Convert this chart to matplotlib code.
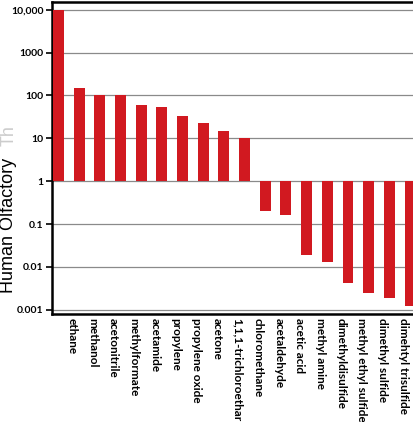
import matplotlib
matplotlib.use("Agg")
import matplotlib.pyplot as plt
from matplotlib.transforms import ScaledTranslation

# Datos
compuestos = ["", "ethane", "methanol", "acetonitrile", "methylformate", "acetamide",
              "propylene", "propylene oxide", "acetone", "1,1,1-trichloroethar",
              "chloromethane", "acetaldehyde", "acetic acid", "methyl amine",
              "dimethyldisulfide", "methyl ethyl sulfide", "dimethyl sulfide",
              "dimehtyl trisulfide"]
umbral = [10000, 145, 100, 104, 60, 53, 34, 23, 15, 10,
          0.2, 0.16, 0.019, 0.013, 0.0042, 0.0025, 0.0019, 0.0012]
y_ticks = [0.001, 0.01, 0.1, 1, 10, 100, 1000, 10000]
y_labels = ["0.001", "0.01", "0.1", "1", "10", "100", "1000", "10,000"]

fig = plt.figure(figsize=(4.14, 4.22), dpi=100)
ax = fig.add_axes([0.126, 0.256, 0.874, 0.739])

x = list(range(len(compuestos)))
alturas = [v - 1 for v in umbral]
ax.bar(x, alturas, bottom=1, width=0.53, color="#d11920", zorder=3)

ax.set_yscale("log")
ax.set_ylim(0.0008, 15000)
ax.set_xlim(-0.3, 17.19)

ax.set_yticks(y_ticks)
ax.set_yticklabels(y_labels, fontsize=7.5, fontweight="bold", family="Lato")
ax.minorticks_off()
ax.tick_params(axis="y", length=4, width=1.2, direction="out", pad=2)
ax.yaxis.grid(True, color="#8a8a8a", linewidth=0.9, zorder=0)

ax.set_xticks(x)
ax.set_xticklabels(compuestos, rotation=270, fontsize=8.5, fontweight="bold",
                   family="Lato", ha="center", va="top")
ax.tick_params(axis="x", length=0, pad=3)
# las etiquetas quedan un poco a la izquierda de cada barra
desplazamiento = ScaledTranslation(-5 / 72, 0, fig.dpi_scale_trans)
for etiqueta in ax.get_xticklabels():
    etiqueta.set_transform(etiqueta.get_transform() + desplazamiento)

for lado in ["left", "bottom", "top", "right"]:
    ax.spines[lado].set_linewidth(1.8)
    ax.spines[lado].set_color("black")

# Etiqueta del eje y (en la imagen original aparece cortada)
fig.text(0.021, 0.306, "Human Olfactory", rotation=90, fontsize=13,
         family="Liberation Sans", ha="center", va="bottom")
fig.text(0.021, 0.655, "Th", rotation=90, fontsize=13, color="#cccccc",
         family="Liberation Sans", ha="center", va="bottom")

fig.savefig("out.png", dpi=100)
